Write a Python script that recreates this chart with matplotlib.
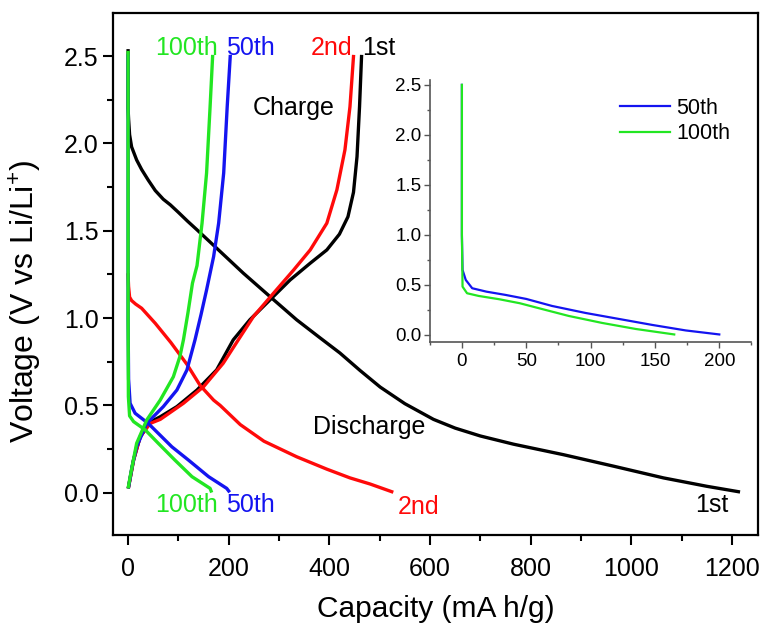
import matplotlib
matplotlib.use("Agg")
import matplotlib.pyplot as plt
from matplotlib.ticker import MultipleLocator

plt.rcParams['font.family'] = ['Liberation Sans', 'DejaVu Sans']
plt.rcParams['mathtext.fontset'] = 'custom'
plt.rcParams['mathtext.rm'] = 'Liberation Sans'

# cycle data (capacity mA h/g, voltage V)
dis1_cap = [0, 0, 1, 3, 7, 17, 27, 40, 54, 70, 84, 100, 118, 137, 176, 229, 282, 335,
            380, 421, 461, 501, 550, 607, 650, 700, 766, 865, 965, 1064, 1150, 1213]
dis1_v = [2.53, 2.2, 2.14, 2.05, 1.98, 1.905, 1.85, 1.79, 1.73, 1.68, 1.648, 1.605,
          1.555, 1.505, 1.40, 1.257, 1.123, 0.99, 0.89, 0.80, 0.70, 0.605, 0.51, 0.42,
          0.37, 0.325, 0.278, 0.218, 0.152, 0.085, 0.037, 0.006]
chg1_cap = [1, 11, 24, 44, 64, 97, 137, 176, 209, 242, 282, 322, 362, 395, 420, 437,
            448, 455, 460, 464]
chg1_v = [0.034, 0.19, 0.32, 0.405, 0.435, 0.493, 0.588, 0.703, 0.875, 0.99, 1.104,
          1.218, 1.314, 1.39, 1.48, 1.58, 1.72, 1.924, 2.21, 2.497]

dis2_cap = [0, 1, 3, 7, 15, 27, 54, 85, 117, 143, 170, 183, 223, 270, 335, 395, 441,
            481, 524]
dis2_v = [1.247, 1.18, 1.12, 1.10, 1.08, 1.056, 0.97, 0.86, 0.735, 0.615, 0.53, 0.5,
          0.39, 0.295, 0.206, 0.135, 0.085, 0.05, 0.006]
chg2_cap = [1, 11, 24, 44, 64, 110, 150, 189, 219, 249, 289, 329, 362, 395, 415, 431,
            441, 448]
chg2_v = [0.034, 0.187, 0.32, 0.397, 0.42, 0.512, 0.607, 0.741, 0.875, 1.008, 1.142,
          1.275, 1.39, 1.543, 1.734, 1.963, 2.21, 2.497]

dis50_cap = [0, 0, 1, 4, 14, 40, 60, 87, 120, 160, 196, 200]
dis50_v = [2.5, 1.0, 0.65, 0.512, 0.455, 0.397, 0.34, 0.263, 0.187, 0.092, 0.025, 0.01]
chg50_cap = [1, 8, 17, 37, 70, 97, 117, 133, 145, 156, 170, 180, 190, 197, 203]
chg50_v = [0.034, 0.15, 0.263, 0.397, 0.493, 0.588, 0.703, 0.875, 1.02, 1.161, 1.352,
           1.543, 1.83, 2.21, 2.497]

dis100_cap = [0, 0, 0.6, 3, 11, 34, 60, 93, 127, 163, 165]
dis100_v = [2.52, 1.0, 0.55, 0.44, 0.407, 0.36, 0.283, 0.187, 0.092, 0.025, 0.01]
chg100_cap = [0.6, 4, 17, 37, 64, 90, 103, 110, 119, 128, 137, 147, 156, 163, 168]
chg100_v = [0.034, 0.09, 0.283, 0.416, 0.531, 0.664, 0.78, 0.875, 1.03, 1.2, 1.3,
            1.543, 1.83, 2.21, 2.497]

# inset: 50th and 100th discharge
in50_cap = [0, 0, 0.5, 3, 8, 19, 34, 50, 70, 96, 122, 148, 174, 200]
in50_v = [2.5, 1.0, 0.65, 0.55, 0.467, 0.433, 0.40, 0.36, 0.29, 0.22, 0.16, 0.1, 0.045, 0.005]
in100_cap = [0, 0, 0.5, 4, 13, 29, 45, 57.5, 83, 109, 135, 165]
in100_v = [2.5, 1.0, 0.483, 0.417, 0.39, 0.357, 0.317, 0.275, 0.19, 0.12, 0.06, 0.005]

black = '#000000'
red = '#ff0a0a'
blue = '#1414f0'
green = '#22e622'

fig = plt.figure(figsize=(7.66, 6.24), dpi=100)
ax = fig.add_axes([0.1475, 0.1426, 0.8421, 0.8365])

lw = 2.4
ax.plot(dis1_cap, dis1_v, color=black, lw=lw)
ax.plot(chg1_cap, chg1_v, color=black, lw=lw)
ax.plot(dis2_cap, dis2_v, color=red, lw=lw)
ax.plot(chg2_cap, chg2_v, color=red, lw=lw)
ax.plot(dis50_cap, dis50_v, color=blue, lw=lw)
ax.plot(chg50_cap, chg50_v, color=blue, lw=lw)
ax.plot(dis100_cap, dis100_v, color=green, lw=lw)
ax.plot(chg100_cap, chg100_v, color=green, lw=lw)

ax.set_xlim(-30, 1252)
ax.set_ylim(-0.242, 2.746)
ax.xaxis.set_major_locator(MultipleLocator(200))
ax.xaxis.set_minor_locator(MultipleLocator(100))
ax.yaxis.set_major_locator(MultipleLocator(0.5))
ax.yaxis.set_minor_locator(MultipleLocator(0.25))
ax.tick_params(which='major', direction='out', length=7, width=1.5, labelsize=18,
               top=False, right=False)
ax.tick_params(axis='x', which='major', pad=9)
ax.tick_params(which='minor', direction='out', length=4, width=1.5, top=False, right=False)
for s in ax.spines.values():
    s.set_linewidth(1.6)
ax.set_xlabel('Capacity (mA h/g)', fontsize=21.5)
ax.set_ylabel(r'Voltage (V vs Li/Li$^{+}$)', fontsize=23)
ax.xaxis.set_label_coords(0.5, -0.115)
ax.yaxis.set_label_coords(-0.108, 0.448)

fs = 18
ax.text(54, 2.546, '100th', color=green, fontsize=fs, va='center')
ax.text(195, 2.546, '50th', color=blue, fontsize=fs, va='center')
ax.text(364, 2.546, '2nd', color=red, fontsize=fs, va='center')
ax.text(465, 2.546, '1st', color=black, fontsize=fs, va='center')
ax.text(248, 2.2, 'Charge', color=black, fontsize=fs, va='center')
ax.text(368, 0.376, 'Discharge', color=black, fontsize=fs, va='center')
ax.text(54, -0.072, '100th', color=green, fontsize=fs, va='center')
ax.text(195, -0.072, '50th', color=blue, fontsize=fs, va='center')
ax.text(535, -0.08, '2nd', color=red, fontsize=fs, va='center')
ax.text(1127, -0.072, '1st', color=black, fontsize=fs, va='center')

# inset
axin = fig.add_axes([0.561, 0.452, 0.420, 0.420])
axin.plot(in50_cap, in50_v, color=blue, lw=1.6, label='50th')
axin.plot(in100_cap, in100_v, color=green, lw=1.6, label='100th')
axin.set_xlim(-25, 225)
axin.set_ylim(-0.07, 2.55)
axin.xaxis.set_major_locator(MultipleLocator(50))
axin.xaxis.set_minor_locator(MultipleLocator(25))
axin.yaxis.set_major_locator(MultipleLocator(0.5))
axin.yaxis.set_minor_locator(MultipleLocator(0.25))
axin.patch.set_alpha(0)
for side in ['top', 'right']:
    axin.spines[side].set_visible(False)
for side in ['left', 'bottom']:
    axin.spines[side].set_color('#555555')
    axin.spines[side].set_linewidth(1.2)
axin.tick_params(which='major', direction='out', length=4, width=1, color='#555555',
                 labelsize=13.5, pad=2)
axin.tick_params(axis='x', which='major', pad=4)
axin.tick_params(which='minor', direction='out', length=2.5, width=1, color='#555555')
axin.legend(loc='upper right', bbox_to_anchor=(0.995, 1.005), frameon=False, fontsize=15.5,
            handlelength=2.3, labelspacing=0.2, handletextpad=0.3)

fig.savefig('out.png', dpi=100)
